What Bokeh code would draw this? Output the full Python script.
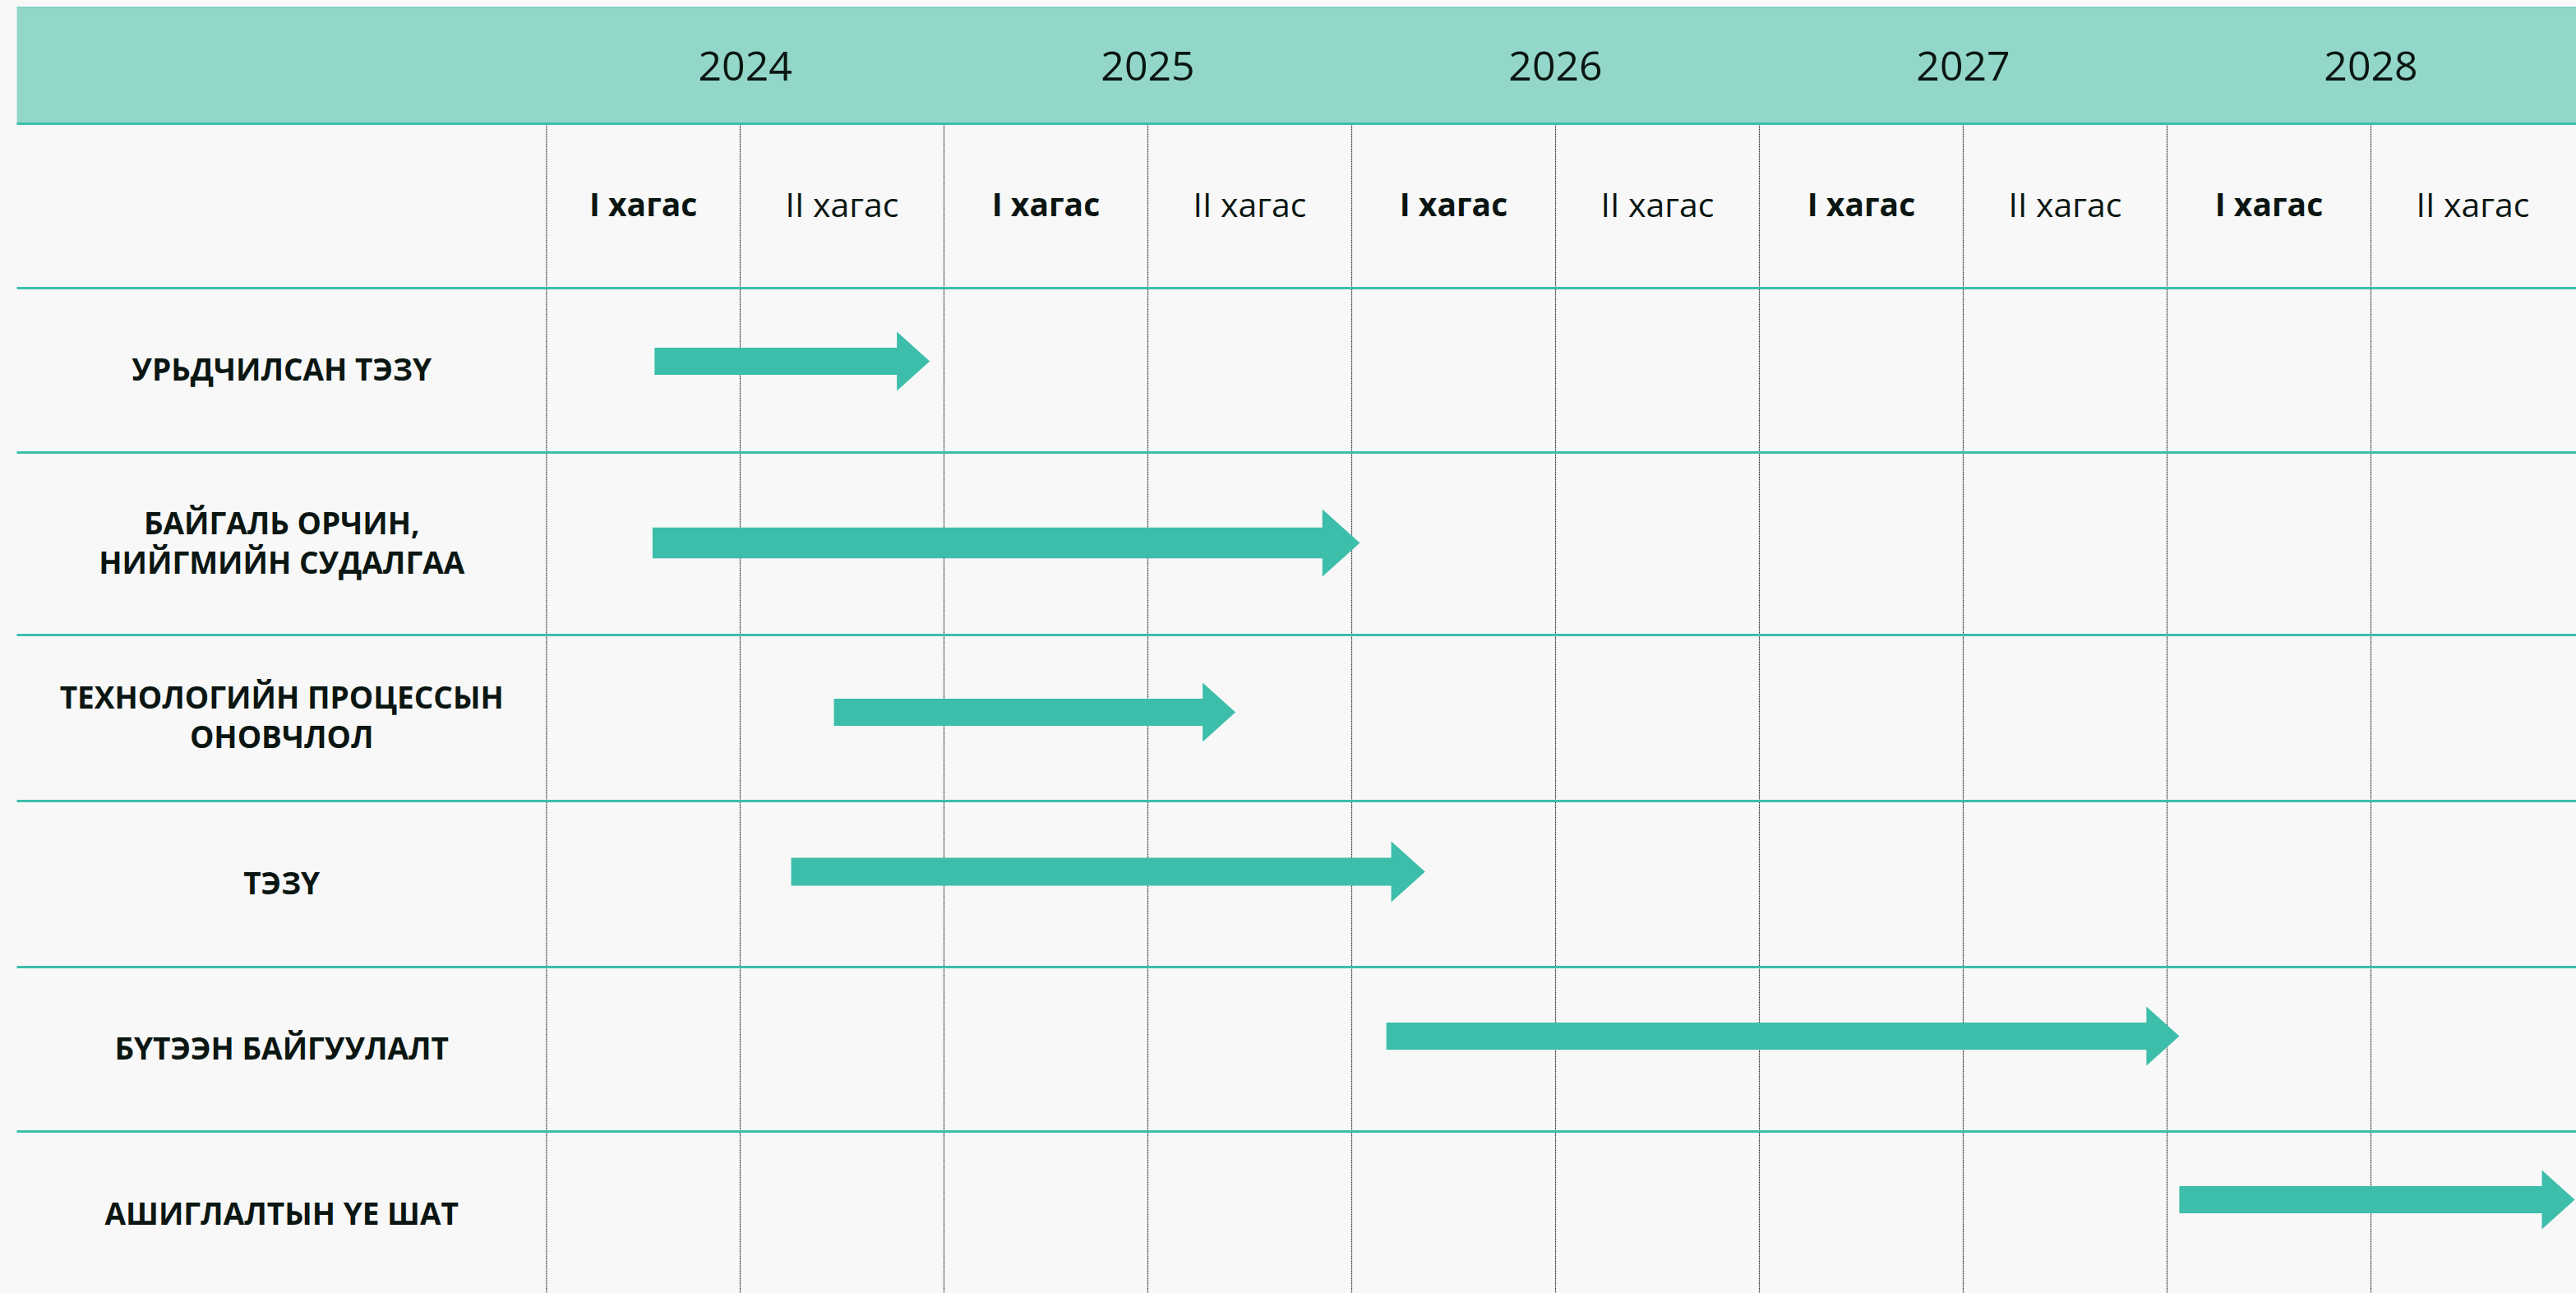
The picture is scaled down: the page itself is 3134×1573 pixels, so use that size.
from bokeh.plotting import figure
from bokeh.models import Range1d
from bokeh.core.properties import value
from bokeh.embed import file_html
from bokeh.resources import INLINE

# ---------------- data ----------------
years = ["2024", "2025", "2026", "2027", "2028"]
halves = ["I хагас", "II хагас", "I хагас", "II хагас", "I хагас",
          "II хагас", "I хагас", "II хагас", "I хагас", "II хагас"]
tasks = [
    "УРЬДЧИЛСАН ТЭЗҮ",
    "БАЙГАЛЬ ОРЧИН,\nНИЙГМИЙН СУДАЛГАА",
    "ТЕХНОЛОГИЙН ПРОЦЕССЫН\nОНОВЧЛОЛ",
    "ТЭЗҮ",
    "БҮТЭЭН БАЙГУУЛАЛТ",
    "АШИГЛАЛТЫН ҮЕ ШАТ",
]
# start / end of each task in half-year units (0 = start of 2024 I хагас)
task_start = [0.58, 0.57, 1.46, 1.25, 4.17, 8.06]
task_end = [1.93, 4.04, 3.43, 4.36, 8.06, 10.0]

# ---------------- layout / style ----------------
PAGE_W, PAGE_H = 3134, 1573
ORIGIN = 0           # screen pixel of the figure's top-left corner
X0_PX = 652          # screen pixel where half-year 0 sits
PX_PER_HALF = 248.0
LEFT_PX = 20         # left edge of table
LABEL_COL_EDGE = 0.05  # right edge of label column (half-year units)
HEADER_TOP, HEADER_BOT = 8, 150
ROW_BOUNDS = [150, 350, 550, 772, 974, 1176, 1376, 1578]
ARROW_SCALE = [1.0, 1.14, 1.0, 1.03, 1.0, 1.0]
ARROW_DY = [-11, -1, -7, -15, -16, -18]   # arrow offset from row centre (px)
BODY_H, HEAD_H, HEAD_LEN_PX = 33, 72, 40

TEAL = "#3CBEAA"
HEADER_BG = "#93D7CA"
BG = "#F8F8F8"
TXT = "#0B1612"
FONT = "Open Sans"


def px2x(px):
    return (px - X0_PX) / PX_PER_HALF


x_start, x_end = px2x(ORIGIN), px2x(ORIGIN + PAGE_W)

p = figure(width=PAGE_W, height=PAGE_H, output_backend="svg", toolbar_location=None,
           x_axis_type=None, y_axis_type=None,
           x_range=Range1d(x_start, x_end), y_range=Range1d(ORIGIN + PAGE_H, ORIGIN),
           min_border=0, min_border_left=0, min_border_right=0,
           min_border_top=0, min_border_bottom=0)
p.outline_line_color = None
p.background_fill_color = BG
p.border_fill_color = BG
p.grid.visible = False

left_x = px2x(LEFT_PX)

# header band
p.quad(left=[left_x], right=[x_end + 1], top=[HEADER_TOP], bottom=[HEADER_BOT],
       fill_color=HEADER_BG, line_color=None)
p.segment(x0=[left_x], x1=[x_end + 1], y0=[HEADER_TOP + 0.5], y1=[HEADER_TOP + 0.5],
          line_color="#5CC8B6", line_width=1)

# column boundaries (half-years)
bounds = [LABEL_COL_EDGE] + list(range(1, 2 * len(years) + 1))
n_lines = len(bounds) - 1
p.segment(x0=bounds[:-1], x1=bounds[:-1], y0=[HEADER_BOT] * n_lines,
          y1=[ORIGIN + PAGE_H + 2] * n_lines,
          line_color="#333333", line_width=1.2, line_dash="2 1")

# horizontal row lines
p.segment(x0=[left_x] * (len(ROW_BOUNDS) - 1), x1=[x_end + 1] * (len(ROW_BOUNDS) - 1),
          y0=ROW_BOUNDS[:-1], y1=ROW_BOUNDS[:-1], line_color=TEAL, line_width=3)

# year labels
year_x = [(bounds[2 * i] + bounds[2 * i + 2]) / 2 for i in range(len(years))]
p.text(x=year_x, y=[(HEADER_TOP + HEADER_BOT) / 2 + 1] * len(years), text=years,
       text_font=value(FONT), text_font_size="50px", text_color=TXT,
       text_align="center", text_baseline="middle")

# half-year labels
half_x = [(bounds[i] + bounds[i + 1]) / 2 for i in range(len(halves))]
half_y = (ROW_BOUNDS[0] + ROW_BOUNDS[1]) / 2 - 3
bold_idx = [i for i, h in enumerate(halves) if h.startswith("I ")]
reg_idx = [i for i, h in enumerate(halves) if not h.startswith("I ")]
p.text(x=[half_x[i] for i in bold_idx], y=[half_y] * len(bold_idx),
       text=[halves[i] for i in bold_idx], text_font=value(FONT),
       text_font_style="bold", text_font_size="39px", text_color=TXT,
       text_align="center", text_baseline="middle")
p.text(x=[half_x[i] for i in reg_idx], y=[half_y] * len(reg_idx),
       text=[halves[i] for i in reg_idx], text_font=value(FONT),
       text_font_size="41px", text_color=TXT,
       text_align="center", text_baseline="middle")

# task labels
row_c = [(ROW_BOUNDS[i + 1] + ROW_BOUNDS[i + 2]) / 2 for i in range(len(tasks))]
label_x = (left_x + LABEL_COL_EDGE) / 2
p.text(x=[label_x] * len(tasks), y=[c - 2 for c in row_c], text=tasks,
       text_font=value(FONT), text_font_style="bold", text_font_size="37px",
       text_color=TXT, text_align="center", text_baseline="middle",
       text_line_height=0.95)

# arrows
xs, ys = [], []
for i, (s, e) in enumerate(zip(task_start, task_end)):
    k = ARROW_SCALE[i]
    cy = row_c[i] + ARROW_DY[i]
    bh, hh = BODY_H * k / 2, HEAD_H * k / 2
    base = e - HEAD_LEN_PX * k / PX_PER_HALF
    xs.append([s, base, base, e, base, base, s])
    ys.append([cy - bh, cy - bh, cy - hh, cy, cy + hh, cy + bh, cy + bh])
p.patches(xs=xs, ys=ys, fill_color=TEAL, line_color=None)

html = file_html(p, INLINE)
html = html.replace("<body>", '<body style="background-color:#F8F8F8;">', 1)
open("out.html", "w").write(html)
